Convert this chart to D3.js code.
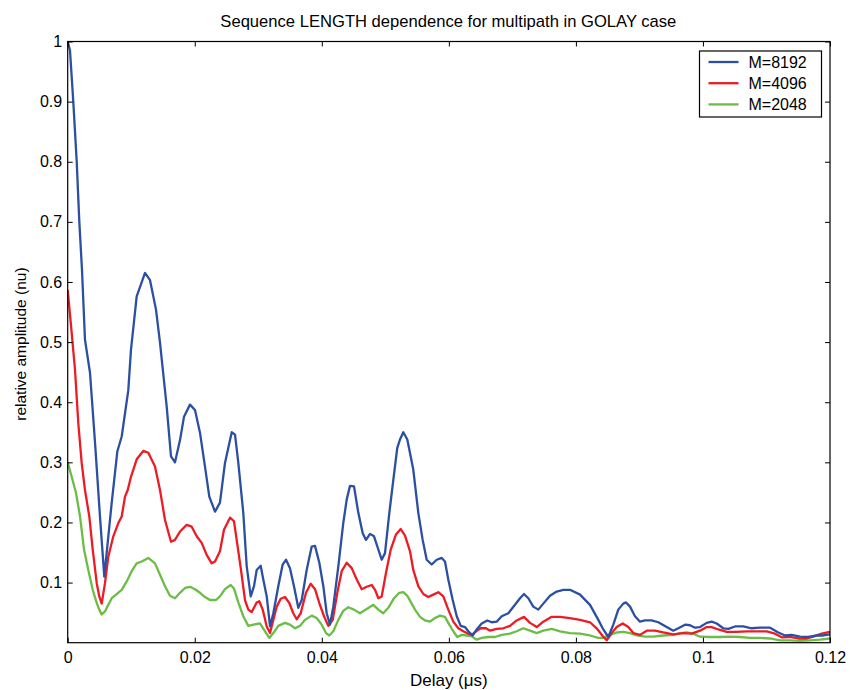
<!DOCTYPE html>
<html>
<head>
<meta charset="utf-8">
<script src="https://cdn.jsdelivr.net/npm/d3@7"></script>
<style>
  html, body { margin: 0; padding: 0; background: #fff; }
  svg { display: block; font-family: Arial, "Liberation Sans", Helvetica, sans-serif; }
</style>
</head>
<body>
<svg id="chart" width="850" height="690"></svg>
<script>
// Delay (µs) / relative amplitude pairs for each sequence length
const delay8192 = [0,0.00036,0.00088,0.00142,0.00183,0.00225,0.00272,0.00351,0.0043,0.00508,0.00576,0.00693,0.00781,0.0085,0.00954,0.00996,0.01086,0.01217,0.01296,0.0139,0.01453,0.01558,0.01626,0.01689,0.01768,0.01831,0.01925,0.02004,0.02083,0.02161,0.02229,0.02319,0.02397,0.02476,0.02582,0.02634,0.02686,0.02764,0.02818,0.02881,0.02933,0.02975,0.03038,0.03079,0.03133,0.03185,0.03237,0.03315,0.03384,0.03437,0.03499,0.03562,0.0363,0.03684,0.03762,0.03841,0.03893,0.03961,0.04024,0.04077,0.04129,0.04181,0.0426,0.04338,0.04392,0.04444,0.04507,0.04575,0.04644,0.04696,0.04759,0.04822,0.0489,0.04943,0.04995,0.05063,0.05126,0.05188,0.05231,0.05283,0.05346,0.0544,0.05519,0.05588,0.05651,0.0573,0.05809,0.05888,0.05939,0.05991,0.06061,0.06124,0.06187,0.06254,0.06306,0.06376,0.06438,0.06517,0.06605,0.06675,0.06753,0.06832,0.06936,0.07041,0.0712,0.07183,0.07251,0.07329,0.07408,0.07487,0.07592,0.07698,0.07802,0.07907,0.08065,0.08222,0.08353,0.08431,0.0851,0.08589,0.08667,0.08746,0.08789,0.08852,0.0893,0.09009,0.09088,0.09193,0.09297,0.09429,0.09533,0.09612,0.09718,0.09796,0.09875,0.09954,0.10059,0.10138,0.10217,0.1032,0.10399,0.10505,0.10635,0.10767,0.10898,0.11056,0.11186,0.11292,0.11397,0.11528,0.11658,0.11791,0.11894,0.12];
const amp8192 = [1.0,0.985,0.90,0.80,0.70,0.62,0.504,0.449,0.333,0.21,0.11,0.233,0.318,0.343,0.42,0.487,0.576,0.615,0.603,0.554,0.499,0.393,0.31,0.30,0.337,0.376,0.396,0.387,0.349,0.293,0.243,0.218,0.233,0.299,0.35,0.346,0.299,0.216,0.127,0.077,0.094,0.121,0.128,0.105,0.077,0.027,0.049,0.094,0.13,0.138,0.124,0.094,0.058,0.071,0.121,0.16,0.161,0.133,0.094,0.049,0.030,0.06,0.127,0.199,0.238,0.261,0.26,0.216,0.182,0.171,0.181,0.177,0.155,0.138,0.149,0.216,0.271,0.324,0.338,0.35,0.338,0.288,0.216,0.171,0.138,0.13,0.138,0.141,0.135,0.105,0.071,0.044,0.028,0.026,0.019,0.012,0.022,0.032,0.037,0.034,0.035,0.044,0.049,0.063,0.074,0.081,0.074,0.06,0.055,0.065,0.078,0.085,0.088,0.088,0.08,0.063,0.038,0.022,0.0095,0.03,0.055,0.065,0.067,0.06,0.044,0.035,0.037,0.037,0.034,0.026,0.02,0.024,0.03,0.029,0.025,0.026,0.033,0.035,0.032,0.024,0.023,0.027,0.027,0.024,0.025,0.025,0.017,0.012,0.013,0.01,0.0095,0.012,0.012,0.014];

const delay4096 = [0,0.00063,0.00115,0.00167,0.0022,0.00272,0.0034,0.00394,0.00457,0.00497,0.00535,0.00587,0.00639,0.00718,0.00797,0.0085,0.00902,0.00945,0.00996,0.01086,0.0119,0.01269,0.01374,0.01453,0.01532,0.01626,0.01689,0.01768,0.01873,0.01952,0.02031,0.02109,0.02188,0.02267,0.02319,0.02397,0.0246,0.02555,0.02618,0.0266,0.02723,0.02791,0.02843,0.02897,0.02975,0.03016,0.0307,0.03133,0.03185,0.03237,0.0329,0.03353,0.03421,0.03488,0.03551,0.03605,0.03668,0.03751,0.03825,0.03893,0.03961,0.04035,0.04102,0.04172,0.04244,0.04313,0.04392,0.04471,0.0455,0.04628,0.04707,0.04786,0.04838,0.0489,0.04943,0.0501,0.05085,0.05168,0.05242,0.0531,0.05389,0.0544,0.05519,0.05598,0.05677,0.05755,0.05834,0.05913,0.05991,0.0607,0.06149,0.06228,0.06306,0.0636,0.06428,0.06502,0.06585,0.06648,0.06753,0.06857,0.06963,0.07068,0.07183,0.07278,0.07383,0.07487,0.07619,0.0775,0.07907,0.08065,0.08222,0.08327,0.08431,0.08485,0.08564,0.08642,0.08737,0.08825,0.08904,0.09009,0.09115,0.09245,0.09376,0.09533,0.09691,0.09823,0.09954,0.10059,0.10138,0.10242,0.10374,0.10531,0.10689,0.10846,0.11004,0.11134,0.1124,0.1137,0.11501,0.11633,0.11737,0.11869,0.12];
const amp4096 = [0.587,0.515,0.454,0.365,0.299,0.254,0.21,0.155,0.099,0.077,0.065,0.099,0.143,0.177,0.199,0.21,0.243,0.254,0.276,0.305,0.319,0.316,0.293,0.254,0.204,0.168,0.171,0.185,0.196,0.193,0.177,0.166,0.146,0.132,0.135,0.152,0.188,0.208,0.202,0.171,0.125,0.071,0.055,0.051,0.067,0.069,0.055,0.027,0.016,0.038,0.06,0.073,0.076,0.066,0.049,0.039,0.049,0.083,0.098,0.089,0.066,0.044,0.028,0.038,0.083,0.119,0.133,0.124,0.105,0.089,0.093,0.096,0.088,0.074,0.077,0.116,0.155,0.18,0.189,0.178,0.152,0.121,0.094,0.081,0.076,0.080,0.084,0.077,0.055,0.035,0.024,0.019,0.015,0.013,0.019,0.024,0.024,0.02,0.023,0.024,0.028,0.037,0.043,0.033,0.026,0.035,0.043,0.043,0.041,0.038,0.034,0.024,0.01,0.004,0.016,0.026,0.032,0.026,0.016,0.013,0.02,0.02,0.017,0.014,0.016,0.015,0.02,0.026,0.026,0.022,0.018,0.018,0.019,0.019,0.019,0.015,0.009,0.0095,0.007,0.007,0.01,0.015,0.018];

const delay2048 = [0,0.00063,0.00131,0.00194,0.00257,0.00324,0.00394,0.00457,0.00497,0.00535,0.00587,0.00639,0.00693,0.00771,0.0085,0.00929,0.01007,0.01086,0.01165,0.01269,0.01374,0.01453,0.01532,0.0161,0.01689,0.01768,0.01847,0.01925,0.02004,0.02083,0.02161,0.0224,0.02335,0.02397,0.02476,0.02566,0.02618,0.02686,0.02764,0.02843,0.02922,0.03027,0.03106,0.03174,0.03237,0.03315,0.03421,0.03499,0.03578,0.03657,0.03736,0.03841,0.0392,0.03998,0.04066,0.04118,0.04181,0.0426,0.04338,0.04417,0.04507,0.04601,0.04707,0.04811,0.0489,0.04968,0.05047,0.05137,0.0522,0.05283,0.05346,0.05389,0.05467,0.05546,0.05625,0.05703,0.05782,0.05861,0.05939,0.06007,0.0607,0.06133,0.06202,0.06281,0.0636,0.06438,0.06517,0.06621,0.06726,0.06832,0.06963,0.07068,0.07172,0.07278,0.07383,0.07487,0.07619,0.0775,0.07907,0.08065,0.08222,0.08353,0.08431,0.08537,0.08642,0.08746,0.08852,0.08957,0.09088,0.09218,0.09376,0.09533,0.09639,0.09744,0.09848,0.09954,0.10111,0.10268,0.10426,0.10583,0.10741,0.10898,0.11056,0.11213,0.1137,0.11528,0.11685,0.11843,0.12];
const amp2048 = [0.3,0.276,0.249,0.21,0.155,0.121,0.088,0.066,0.055,0.047,0.052,0.063,0.074,0.081,0.088,0.102,0.119,0.132,0.135,0.141,0.132,0.113,0.094,0.078,0.074,0.083,0.091,0.093,0.089,0.083,0.076,0.071,0.071,0.077,0.089,0.096,0.09,0.067,0.044,0.028,0.03,0.032,0.019,0.008,0.016,0.028,0.033,0.03,0.024,0.028,0.038,0.045,0.041,0.03,0.016,0.012,0.019,0.038,0.053,0.059,0.055,0.049,0.056,0.063,0.055,0.049,0.058,0.074,0.083,0.084,0.078,0.070,0.055,0.043,0.037,0.035,0.041,0.045,0.043,0.03,0.019,0.0095,0.013,0.012,0.0105,0.005,0.008,0.0095,0.0095,0.013,0.015,0.019,0.024,0.02,0.016,0.02,0.023,0.019,0.016,0.015,0.012,0.008,0.008,0.013,0.017,0.018,0.016,0.012,0.01,0.01,0.012,0.013,0.016,0.017,0.015,0.01,0.0095,0.0095,0.01,0.0095,0.008,0.008,0.007,0.004,0.004,0.003,0.004,0.005,0.007];

const seriesNames = ["M=8192", "M=4096", "M=2048"];
const seriesColors = ["#2b4fa3", "#ed1c24", "#6cbd45"];
const xTicks = [0, 0.02, 0.04, 0.06, 0.08, 0.1, 0.12];
const yTicks = [0.1, 0.2, 0.3, 0.4, 0.5, 0.6, 0.7, 0.8, 0.9, 1];
const titleText = "Sequence LENGTH dependence for multipath in GOLAY case";
const xLabel = "Delay (\u03bcs)";
const yLabel = "relative amplitude (nu)";

const series = [
  { name: seriesNames[0], color: seriesColors[0], pts: delay8192.map((d, i) => [d, amp8192[i]]) },
  { name: seriesNames[1], color: seriesColors[1], pts: delay4096.map((d, i) => [d, amp4096[i]]) },
  { name: seriesNames[2], color: seriesColors[2], pts: delay2048.map((d, i) => [d, amp2048[i]]) }
];

const svg = d3.select("#chart");
const L = 67.7, R = 830, T = 41.5, B = 642.7;
const x = d3.scaleLinear().domain([0, 0.12]).range([L, R]);
const y = d3.scaleLinear().domain([0, 1]).range([B, T]);

svg.append("defs").append("clipPath").attr("id", "plotClip")
  .append("rect").attr("x", L).attr("y", T - 2).attr("width", R - L).attr("height", B - T + 2);

// Curves (drawn in reverse so the longest sequence sits on top)
const line = d3.line().x(d => x(d[0])).y(d => y(d[1]));
svg.append("g").attr("clip-path", "url(#plotClip)")
  .selectAll("path").data(series.slice().reverse()).join("path")
  .attr("d", d => line(d.pts))
  .attr("fill", "none")
  .attr("stroke", d => d.color)
  .attr("stroke-width", 2.3)
  .attr("stroke-linejoin", "round");

// Box axes with inward ticks on every side
const tickLen = 5;
const fmtX = d => d3.format("~g")(d);
const gx = svg.append("g").attr("transform", `translate(0,${B})`)
  .call(d3.axisBottom(x).tickValues(xTicks).tickSizeInner(-tickLen).tickSizeOuter(0).tickPadding(8.5).tickFormat(fmtX));
const gxTop = svg.append("g").attr("transform", `translate(0,${T})`)
  .call(d3.axisTop(x).tickValues(xTicks).tickSizeInner(-tickLen).tickSizeOuter(0).tickFormat(""));
const gy = svg.append("g").attr("transform", `translate(${L},0)`)
  .call(d3.axisLeft(y).tickValues(yTicks).tickSizeInner(-tickLen).tickSizeOuter(0).tickPadding(5.5).tickFormat(d3.format("~g")));
const gyR = svg.append("g").attr("transform", `translate(${R},0)`)
  .call(d3.axisRight(y).tickValues(yTicks).tickSizeInner(-tickLen).tickSizeOuter(0).tickFormat(""));

[gx, gxTop, gy, gyR].forEach(g => {
  g.select(".domain").remove();
  g.selectAll("line").attr("stroke", "#000").attr("stroke-width", 1);
  g.selectAll("text").attr("fill", "#000").style("font-size", "16px")
    .style("font-family", "Arial, 'Liberation Sans', sans-serif");
});

svg.append("rect").attr("x", L).attr("y", T).attr("width", R - L).attr("height", B - T)
  .attr("fill", "none").attr("stroke", "#000").attr("stroke-width", 1.2);

// Title and axis labels
svg.append("text").attr("x", (L + R) / 2 - 0.5).attr("y", 27).attr("text-anchor", "middle")
  .style("font-size", "16.6px").text(titleText);
svg.append("text").attr("x", (L + R) / 2).attr("y", 686).attr("text-anchor", "middle")
  .style("font-size", "17px").text(xLabel);
svg.append("text").attr("transform", `translate(26,${(T + B) / 2 + 2}) rotate(-90)`)
  .attr("text-anchor", "middle").style("font-size", "15.5px").text(yLabel);

// Legend
const lg = svg.append("g").attr("transform", "translate(699.5,51)");
lg.append("rect").attr("width", 122).attr("height", 66).attr("fill", "#fff")
  .attr("stroke", "#000").attr("stroke-width", 1.2);
series.forEach((s, i) => {
  const cy = 11 + i * 21.2;
  lg.append("line").attr("x1", 9).attr("x2", 39).attr("y1", cy).attr("y2", cy)
    .attr("stroke", s.color).attr("stroke-width", 2.3);
  lg.append("text").attr("x", 49).attr("y", cy + 5.5).style("font-size", "16px").text(s.name);
});
</script>
</body>
</html>
